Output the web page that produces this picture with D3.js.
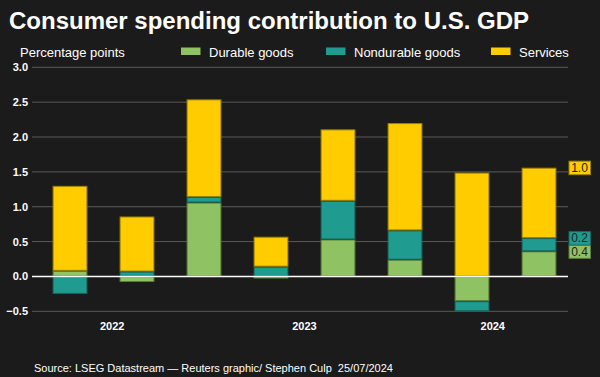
<!DOCTYPE html>
<head>
  <meta charset="utf-8">
  <title>Consumer spending contribution to U.S. GDP</title>
  <script src="https://cdn.jsdelivr.net/npm/d3@7"></script>
  <style>
    body {
      margin: 0;
      background: #1b1b1b;
    }
    text {
      font-family: Arial, "Liberation Sans", sans-serif;
    }
  </style>
</head>
<body>
  <script>
    // quarters Q3 2022 .. Q2 2024
    var quarters = ["2022Q3", "2022Q4", "2023Q1", "2023Q2", "2023Q3", "2023Q4", "2024Q1", "2024Q2"];
    var durable = [0.08, -0.08, 1.06, -0.03, 0.53, 0.24, -0.355, 0.36];
    var nondurable = [-0.25, 0.07, 0.08, 0.14, 0.555, 0.42, -0.145, 0.19];
    var services = [1.22, 0.79, 1.40, 0.43, 1.025, 1.54, 1.49, 1.01];
    var seriesNames = ["Durable goods", "Nondurable goods", "Services"];
    var yTicks = [-0.5, 0, 0.5, 1.0, 1.5, 2.0, 2.5, 3.0];
    var yearLabels = ["2022", "2023", "2024"];
    var yearAt = [0.63, 3.5, 6.31]; // in quarter-index units

    var colors = ["#8fc262", "#209b8f", "#ffcc00"];
    var strokes = ["#5b7d3a", "#17665e", "#9a8200"];

    var W = 600, H = 377;
    var svg = d3.select("body").append("svg")
      .attr("width", W)
      .attr("height", H);

    var rows = quarters.map(function(q, i) {
      return { q: q, durable: durable[i], nondurable: nondurable[i], services: services[i] };
    });
    var keys = ["durable", "nondurable", "services"];
    var stacked = d3.stack().keys(keys).offset(d3.stackOffsetDiverging)(rows);

    var x = d3.scaleBand()
      .domain(quarters)
      .range([36.5, 572.5])
      .paddingInner(0.48)
      .paddingOuter(0.24);
    var y = d3.scaleLinear().domain([-0.5, 3]).range([311.3, 67.3]);
    var gridLeft = 32, gridRight = 568;

    // title
    svg.append("text")
      .attr("x", 9).attr("y", 28.5)
      .attr("fill", "#fff")
      .style("font-size", "24px")
      .style("font-weight", "bold")
      .text("Consumer spending contribution to U.S. GDP");

    svg.append("text")
      .attr("x", 20).attr("y", 57)
      .attr("fill", "#fff")
      .style("font-size", "13px")
      .text("Percentage points");

    // legend
    var legX = [181, 326, 491];
    var leg = svg.selectAll("g.leg")
      .data(seriesNames)
      .enter().append("g")
      .attr("class", "leg")
      .attr("transform", function(d, i) { return "translate(" + legX[i] + ",0)"; });
    leg.append("rect")
      .attr("x", 0).attr("y", 47.5)
      .attr("width", 19.5).attr("height", 7.5)
      .attr("fill", function(d, i) { return colors[i]; });
    leg.append("text")
      .attr("x", 28).attr("y", 57)
      .attr("fill", "#fff")
      .style("font-size", "13px")
      .text(function(d) { return d; });

    // gridlines + y labels
    svg.selectAll("line.grid")
      .data(yTicks.filter(function(t) { return t !== 0; }))
      .enter().append("line")
      .attr("class", "grid")
      .attr("x1", gridLeft).attr("x2", gridRight)
      .attr("y1", function(d) { return y(d); })
      .attr("y2", function(d) { return y(d); })
      .attr("stroke", "#5a5a5a")
      .attr("stroke-width", 1);

    svg.selectAll("text.ytick")
      .data(yTicks)
      .enter().append("text")
      .attr("class", "ytick")
      .attr("x", 28).attr("y", function(d) { return y(d); })
      .attr("dy", "0.36em")
      .attr("text-anchor", "end")
      .attr("fill", "#fff")
      .style("font-size", "11px")
      .style("font-weight", "bold")
      .text(d3.format(".1f"));

    // bars
    var layers = svg.selectAll("g.layer")
      .data(stacked)
      .enter().append("g")
      .attr("class", "layer")
      .attr("fill", function(d, i) { return colors[i]; })
      .attr("stroke", function(d, i) { return strokes[i]; });
    layers.selectAll("rect")
      .data(function(d) { return d; })
      .enter().append("rect")
      .attr("x", function(d) { return x(d.data.q) + 0.5; })
      .attr("width", x.bandwidth() - 1)
      .attr("y", function(d) { return y(Math.max(d[0], d[1])) + 0.5; })
      .attr("height", function(d) { return Math.max(0, Math.abs(y(d[0]) - y(d[1])) - 1); })
      .attr("stroke-width", 1);

    // zero line
    svg.append("line")
      .attr("x1", gridLeft).attr("x2", gridRight)
      .attr("y1", y(0)).attr("y2", y(0))
      .attr("stroke", "#fff")
      .attr("stroke-width", 1.5);

    // year labels
    svg.selectAll("text.year")
      .data(yearLabels)
      .enter().append("text")
      .attr("class", "year")
      .attr("x", function(d, i) { return x(quarters[0]) + x.bandwidth() / 2 + yearAt[i] * x.step(); })
      .attr("y", 330)
      .attr("text-anchor", "middle")
      .attr("fill", "#fff")
      .style("font-size", "11px")
      .style("font-weight", "bold")
      .text(function(d) { return d; });

    // end labels for the latest quarter
    var last = quarters.length - 1;
    var endLabels = stacked.map(function(s, i) {
      return { value: s[last].data[keys[i]], top: s[last][1], i: i };
    });
    var lab = svg.selectAll("g.endlab")
      .data(endLabels)
      .enter().append("g")
      .attr("class", "endlab")
      .attr("transform", function(d) { return "translate(568.5," + y(d.top) + ")"; });
    lab.append("rect")
      .attr("x", 0.5).attr("y", -6.5)
      .attr("width", 21.5).attr("height", 13.5)
      .attr("fill", function(d) { return colors[d.i]; })
      .attr("stroke", function(d) { return strokes[d.i]; });
    lab.append("text")
      .attr("x", 11).attr("y", 0)
      .attr("dy", "0.36em")
      .attr("text-anchor", "middle")
      .attr("fill", "#222")
      .style("font-size", "12px")
      .text(function(d) { return d3.format(".1f")(d.value); });

    // source
    svg.append("text")
      .attr("x", 34).attr("y", 371.5)
      .attr("fill", "#fff")
      .style("font-size", "11px")
      .style("white-space", "pre")
      .text("Source: LSEG Datastream \u2014 Reuters graphic/ Stephen Culp  25/07/2024");
  </script>
</body>
